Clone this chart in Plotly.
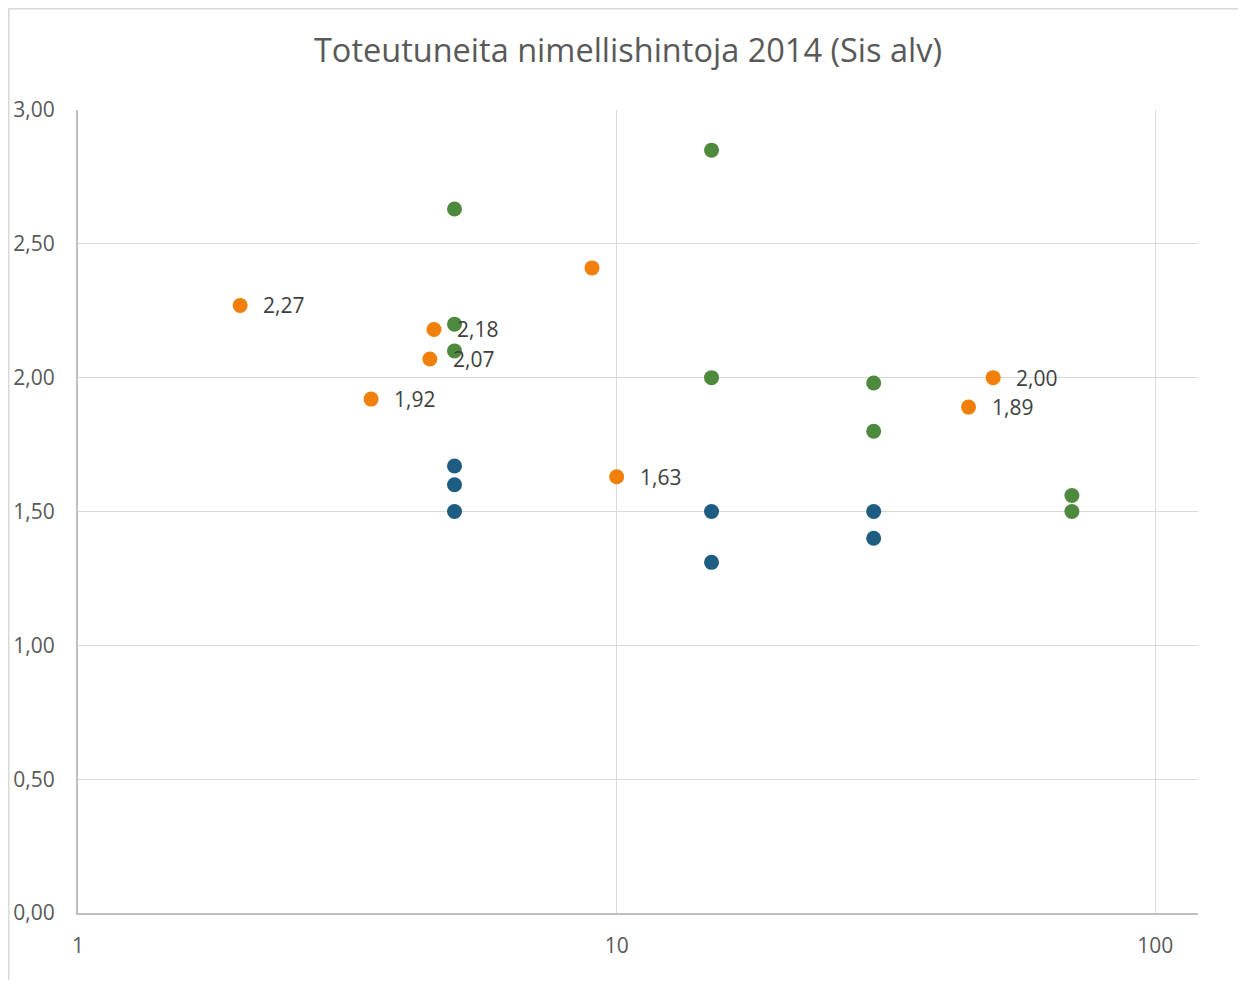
import numpy as np
import plotly.graph_objects as go

# Series data (x on log scale, y = price)
blue_x = [5, 5, 5, 15, 15, 30, 30]
blue_y = [1.67, 1.60, 1.50, 1.50, 1.31, 1.50, 1.40]

green_x = [5, 5, 5, 15, 15, 30, 30, 70, 70]
green_y = [2.63, 2.20, 2.10, 2.85, 2.00, 1.98, 1.80, 1.56, 1.50]

orange_x = [2, 4.58, 4.5, 3.5, 9, 10, 50, 45]
orange_y = [2.27, 2.18, 2.07, 1.92, 2.41, 1.63, 2.00, 1.89]
orange_labels = ["2,27", "2,18", "2,07", "1,92", "", "1,63", "2,00", "1,89"]

x_ticks = [1, 10, 100]
x_ticktext = ["1", "10", "100"]

BLUE = "#1F5C82"
GREEN = "#4E8A3E"
ORANGE = "#F0800A"

fig = go.Figure()
fig.add_trace(go.Scatter(x=blue_x, y=blue_y, mode="markers",
                         marker=dict(color=BLUE, size=15), showlegend=False))
fig.add_trace(go.Scatter(x=green_x, y=green_y, mode="markers",
                         marker=dict(color=GREEN, size=15), showlegend=False))
fig.add_trace(go.Scatter(x=orange_x, y=orange_y, mode="markers",
                         marker=dict(color=ORANGE, size=15), showlegend=False))

annotations = []
for xv, yv, lab in zip(orange_x, orange_y, orange_labels):
    if not lab:
        continue
    annotations.append(dict(x=np.log10(xv), y=yv, xref="x", yref="y", text=lab,
                            showarrow=False, xanchor="left", yanchor="middle",
                            xshift=21, yshift=0,
                            font=dict(size=21, color="#404040", family="Open Sans")))

# page body has an 8px margin; figure size chosen so the page is 1246x988
W, H = 1230, 972
OFF = 8
L, R, T, B = 78 - OFF, 1198 - OFF, 110 - OFF, 913 - OFF
pw, ph = R - L, B - T

def px(xp):
    return (xp - L) / pw

def py(yp):
    return (B - yp) / ph

fig.update_layout(
    width=W, height=H,
    margin=dict(l=L, r=W - R, t=T, b=H - B, pad=0, autoexpand=False),
    paper_bgcolor="white", plot_bgcolor="white",
    separators=", ",
    annotations=annotations,
    title=dict(text="Toteutuneita nimellishintoja 2014 (Sis alv)",
               x=(628 - OFF) / W, xref="container", xanchor="center",
               y=1 - (51 - OFF) / H, yref="container", yanchor="middle",
               font=dict(size=32.5, color="#595959", family="Open Sans")),
    font=dict(family="Open Sans", color="#595959", size=21),
    xaxis=dict(type="log", range=[0, 2.0792], tickvals=x_ticks, ticktext=x_ticktext,
               showgrid=True, gridcolor="#d9d9d9", gridwidth=1.3,
               showline=True, linecolor="#bfbfbf", linewidth=2,
               zeroline=False, ticks="", ticklabelstandoff=13, automargin=False,
               tickfont=dict(size=21, color="#595959")),
    yaxis=dict(range=[0, 3], dtick=0.5, tickformat=".2f",
               showgrid=True, gridcolor="#d9d9d9", gridwidth=1.3,
               showline=True, linecolor="#bfbfbf", linewidth=2,
               zeroline=False, ticks="", ticklabelstandoff=17, automargin=False,
               tickfont=dict(size=21, color="#595959")),
    shapes=[dict(type="rect", xref="paper", yref="paper",
                 x0=px(8.5 - OFF), x1=px(1300), y0=py(1050), y1=py(0.5),
                 line=dict(color="#d9d9d9", width=2), fillcolor="rgba(0,0,0,0)",
                 layer="below")],
)

fig.write_html("out.html")
